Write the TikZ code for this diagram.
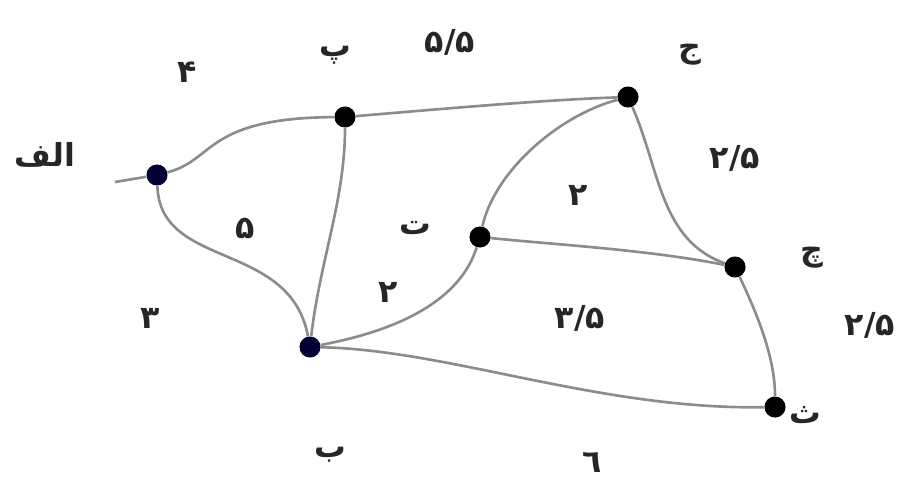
\documentclass[tikz,border=0pt]{standalone}
\usepackage{fontspec}
\newfontfamily\fa[Script=Arabic]{DejaVu Sans}
\TeXXeTstate=1
\begin{document}
\begin{tikzpicture}[x=0.02cm,y=-0.02cm,
  vtx/.style={circle,fill=#1,inner sep=0pt,minimum size=12pt},
  vtx/.default=black,
  edge/.style={draw=black!45,line width=1.5pt},
  lbl/.style={font=\fa\bfseries\fontsize{18}{21}\selectfont,text=black!85,inner sep=0pt}]
\useasboundingbox (0,0) rectangle (911,494);
\node[vtx={blue!20!black}] (A) at (157,175) {};
\node[vtx] (P) at (345,117) {};
\node[vtx] (J) at (628,97) {};
\node[vtx] (T) at (480,237) {};
\node[vtx] (C) at (735,267) {};
\node[vtx={blue!20!black}] (B) at (310,347) {};
\node[vtx] (S) at (775,407) {};
\coordinate (in) at (115,182);
\draw[edge] (in) -- (A);
\draw[edge] (A) .. controls (215,160) and (205,118) .. (P);
\draw[edge] (P) .. controls (430,110) and (540,100) .. (J);
\draw[edge] (A) .. controls (160,270) and (290,240) .. (B);
\draw[edge] (P) .. controls (345,200) and (320,260) .. (B);
\draw[edge] (B) .. controls (400,330) and (460,300) .. (T);
\draw[edge] (T) .. controls (495,170) and (560,115) .. (J);
\draw[edge] (T) .. controls (560,245) and (650,250) .. (C);
\draw[edge] (J) .. controls (660,170) and (660,240) .. (C);
\draw[edge] (C) .. controls (760,320) and (775,360) .. (S);
\draw[edge] (B) .. controls (450,350) and (600,410) .. (S);
\node[lbl] (lA) at (45,155) {\beginR الف\endR};
\node[lbl] (lP) at (335,55) {پ};
\node[lbl] (lJ) at (690,55) {ج};
\node[lbl] (lT) at (415,228) {ت};
\node[lbl] (lC) at (812,258) {چ};
\node[lbl] (lS) at (805,415) {ث};
\node[lbl] (lB) at (330,455) {ب};
\node[lbl] (w1) at (187,72) {۴};
\node[lbl] (w2) at (450,42) {۵/۵};
\node[lbl] (w3) at (735,158) {۲/۵};
\node[lbl] (w4) at (578,195) {۲};
\node[lbl] (w5) at (245,228) {۵};
\node[lbl] (w6) at (150,318) {۳};
\node[lbl] (w7) at (388,292) {۲};
\node[lbl] (w8) at (580,318) {۳/۵};
\node[lbl] (w9) at (870,325) {۲/۵};
\node[lbl] (w10) at (592,462) {٦};
\end{tikzpicture}
\end{document}
